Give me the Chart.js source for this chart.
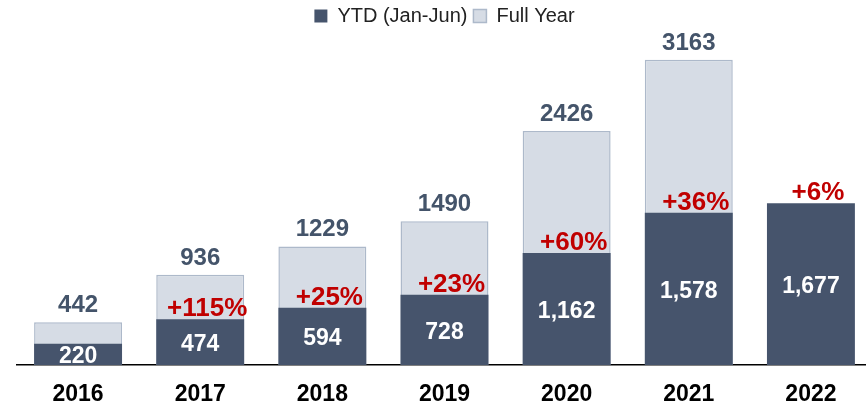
<!DOCTYPE html>
<html>
<head>
<meta charset="utf-8">
<script src="https://cdn.jsdelivr.net/npm/chart.js@4.4.0/dist/chart.umd.min.js"></script>
<style>
  html, body { margin: 0; padding: 0; background: #fff; overflow: hidden; }
  #wrap { width: 866px; height: 409px; overflow: hidden; }
</style>
</head>
<body>
<div id="wrap"><canvas id="myChart" width="872" height="409"></canvas></div>
<script>
const years = ['2016', '2017', '2018', '2019', '2020', '2021', '2022'];
const ytdValues = [220, 474, 594, 728, 1162, 1578, 1677];
const fullYearValues = [442, 936, 1229, 1490, 2426, 3163, null];
const growthLabels = ['', '+115%', '+25%', '+23%', '+60%', '+36%', '+6%'];

const dark = '#46546C';
const light = '#D6DCE5';
const fontFamily = '"Liberation Sans", Arial, sans-serif';

// value labels drawn over the bars
const labelPlugin = {
    id: 'barLabels',
    afterDatasetsDraw(chart) {
        const ctx = chart.ctx;
        const ytdMeta = chart.getDatasetMeta(0);
        const fullMeta = chart.getDatasetMeta(1);
        ctx.save();
        ctx.textAlign = 'center';
        ctx.textBaseline = 'alphabetic';
        ctx.font = 'bold 24px ' + fontFamily;

        fullMeta.data.forEach((bar, i) => {
            if (fullYearValues[i] == null) return;
            ctx.fillStyle = '#44546A';
            ctx.fillText(fullYearValues[i], bar.x, bar.y - 10);
        });

        ytdMeta.data.forEach((bar, i) => {
            const mid = (bar.y + bar.base) / 2;
            ctx.fillStyle = '#fff';
            ctx.font = 'bold 23px ' + fontFamily;
            ctx.fillText(ytdValues[i].toLocaleString('en-US'), bar.x, Math.min(mid + 9, bar.base - 1));

            if (growthLabels[i]) {
                ctx.fillStyle = '#C00000';
                ctx.font = 'bold 26px ' + fontFamily;
                ctx.fillText(growthLabels[i], bar.x + 7, bar.y - 3);
            }
        });
        ctx.restore();
    }
};

new Chart(document.getElementById('myChart'), {
    type: 'bar',
    data: {
        labels: years,
        datasets: [
            {
                label: 'YTD (Jan-Jun)',
                data: ytdValues,
                backgroundColor: dark,
                borderColor: dark,
                borderWidth: 0,
                grouped: false,
                barPercentage: 0.72,
                categoryPercentage: 1
            },
            {
                label: 'Full Year',
                data: fullYearValues,
                backgroundColor: light,
                borderColor: '#ADB9CA',
                borderWidth: 1.5,
                grouped: false,
                barPercentage: 0.72,
                categoryPercentage: 1
            }
        ]
    },
    options: {
        responsive: false,
        animation: false,
        layout: { padding: { left: 17, right: 0, top: 0, bottom: 0 } },
        plugins: {
            legend: {
                position: 'top',
                labels: {
                    boxWidth: 13,
                    boxHeight: 13,
                    padding: 6,
                    color: '#222',
                    font: { family: fontFamily, size: 20 }
                }
            },
            tooltip: { enabled: false }
        },
        scales: {
            x: {
                grid: { display: false, drawTicks: false },
                border: { color: '#000', width: 1.5 },
                ticks: {
                    color: '#000',
                    padding: 16,
                    font: { family: fontFamily, size: 23, weight: 'bold' }
                },
                afterFit(scale) { scale.height = 44; }
            },
            y: {
                display: false,
                min: 0,
                max: 3410
            }
        }
    },
    plugins: [labelPlugin]
});
</script>
</body>
</html>
